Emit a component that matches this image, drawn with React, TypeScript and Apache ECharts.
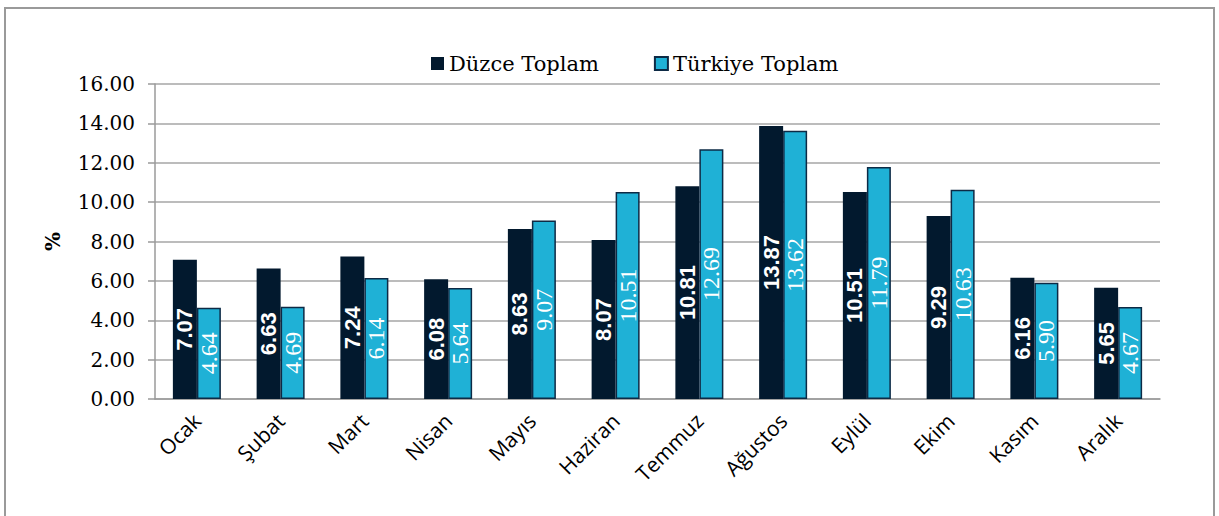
import React, { useEffect, useRef } from "react";
import * as echarts from "echarts";

const categories = ["Ocak", "Şubat", "Mart", "Nisan", "Mayıs", "Haziran", "Temmuz", "Ağustos", "Eylül", "Ekim", "Kasım", "Aralık"];
const duzce = [7.07, 6.63, 7.24, 6.08, 8.63, 8.07, 10.81, 13.87, 10.51, 9.29, 6.16, 5.65];
const turkiye = [4.64, 4.69, 6.14, 5.64, 9.07, 10.51, 12.69, 13.62, 11.79, 10.63, 5.9, 4.67];
const seriesNames = ["Düzce Toplam", "Türkiye Toplam"];

const SERIF = "'DejaVu Serif', serif";

export default function App() {
  const ref = useRef<HTMLDivElement>(null);
  useEffect(() => {
    const chart = echarts.init(ref.current!, null, { renderer: "svg" });
    chart.setOption({
      animation: false,
      backgroundColor: "#ffffff",
      graphic: [
        {
          type: "rect",
          shape: { x: 5, y: 8, width: 1209, height: 520 },
          style: { fill: "none", stroke: "#9a9a9a", lineWidth: 2 },
          silent: true,
          z: -1,
        },
      ],
      legend: {
        left: 426,
        top: 48,
        itemWidth: 13,
        itemHeight: 13,
        itemGap: 55,
        icon: "rect",
        textStyle: { fontFamily: SERIF, fontSize: 21, color: "#000" },
        data: seriesNames,
      },
      grid: { left: 155, right: 59, top: 84, bottom: 117 },
      xAxis: {
        type: "category",
        data: categories,
        axisLine: { lineStyle: { color: "#9a9a9a", width: 1.5 } },
        axisTick: { show: false },
        axisLabel: {
          rotate: 45,
          fontFamily: "'Open Sans', sans-serif",
          fontSize: 21,
          color: "#000",
          margin: 18,
          interval: 0,
        },
      },
      yAxis: {
        type: "value",
        min: 0,
        max: 16,
        interval: 2,
        name: "%",
        nameLocation: "middle",
        nameRotate: 90,
        nameGap: 92,
        nameTextStyle: { fontFamily: SERIF, fontSize: 20, fontWeight: "bold", color: "#000" },
        axisLine: { show: true, lineStyle: { color: "#9a9a9a", width: 1.5 } },
        axisTick: { show: true, length: 7, lineStyle: { color: "#9a9a9a", width: 1.5 } },
        splitLine: { lineStyle: { color: "#a6a6a6", width: 1.5 } },
        axisLabel: {
          formatter: (v: number) => v.toFixed(2),
          fontFamily: SERIF,
          fontSize: 20,
          color: "#000",
          margin: 20,
        },
      },
      series: [
        {
          name: seriesNames[0],
          type: "bar",
          data: duzce,
          barWidth: 24,
          barGap: "0%",
          itemStyle: { color: "#02192e" },
          label: {
            show: true,
            position: "inside",
            rotate: 90,
            formatter: (p: any) => "{d|" + p.value.toFixed(2) + "}",
            rich: {
              d: {
                color: "#ffffff",
                fontFamily: "'Liberation Sans', Arial, sans-serif",
                fontWeight: "bold",
                fontSize: 22,
                textBorderWidth: 0,
              },
            },
          },
        },
        {
          name: seriesNames[1],
          type: "bar",
          data: turkiye,
          barWidth: 24,
          barGap: "0%",
          itemStyle: { color: "#1fb1d6", borderColor: "#0d2a45", borderWidth: 1.5 },
          label: {
            show: true,
            position: "inside",
            rotate: 90,
            formatter: (p: any) => "{t|" + p.value.toFixed(2) + "}",
            rich: {
              t: {
                color: "#ffffff",
                fontFamily: "'Liberation Serif', 'Times New Roman', serif",
                fontSize: 24,
                textBorderWidth: 0,
              },
            },
          },
        },
      ],
    });
    return () => chart.dispose();
  }, []);
  return <div ref={ref} style={{ position: "fixed", left: 0, top: 0, width: 1219, height: 516 }} />;
}
